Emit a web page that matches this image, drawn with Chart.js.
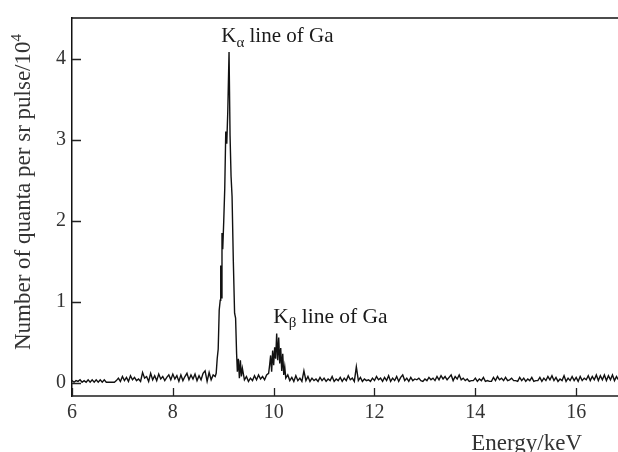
<!DOCTYPE html>
<html>
<head>
<meta charset="utf-8">
<script src="https://cdn.jsdelivr.net/npm/chart.js@4.4.1/dist/chart.umd.min.js"></script>
<style>
  html, body { margin: 0; padding: 0; background: #fff; }
  #wrap { width: 618px; height: 452px; }
</style>
</head>
<body>
<div id="wrap"><canvas id="myChart" width="618" height="452"></canvas></div>
<script>
// spectrum, counts in units of 10^4 quanta per sr per pulse
const energyLow = [6.00, 6.04, 6.08, 6.12, 6.16, 6.20, 6.24, 6.28, 6.32, 6.36, 6.40, 6.44, 6.48, 6.52, 6.56, 6.60,
  6.64, 6.68, 6.72, 6.76, 6.80, 6.84, 6.88, 6.92, 6.96, 7.00, 7.04, 7.08, 7.12, 7.16, 7.20, 7.24, 7.28, 7.32, 7.36,
  7.40, 7.44, 7.48, 7.52, 7.56, 7.60, 7.64, 7.68, 7.72, 7.76, 7.80, 7.84, 7.88, 7.92, 7.96, 8.00, 8.04, 8.08, 8.12,
  8.16, 8.20, 8.24, 8.28, 8.32, 8.36, 8.40, 8.44, 8.48, 8.52, 8.56, 8.60, 8.64, 8.68, 8.72, 8.76, 8.80, 8.84];
const countsLow = [0.03, 0.01, 0.03, 0.02, 0.04, 0.01, 0.03, 0.01, 0.04, 0.01, 0.04, 0.01, 0.04, 0.01, 0.04, 0.01,
  0.04, 0.01, 0.01, 0.01, 0.01, 0.01, 0.03, 0.06, 0.02, 0.08, 0.03, 0.07, 0.02, 0.09, 0.04, 0.07, 0.03, 0.05, 0.02,
  0.13, 0.06, 0.08, 0.02, 0.12, 0.04, 0.09, 0.03, 0.11, 0.05, 0.08, 0.03, 0.07, 0.10, 0.04, 0.11, 0.05, 0.09, 0.02,
  0.10, 0.03, 0.08, 0.12, 0.04, 0.10, 0.05, 0.11, 0.03, 0.09, 0.04, 0.12, 0.15, 0.02, 0.13, 0.04, 0.10, 0.08];

const energyKa = [8.86, 8.88, 8.90, 8.92, 8.94, 8.95, 8.96, 8.975, 8.99, 9.01, 9.03, 9.05, 9.07, 9.09, 9.115, 9.135,
  9.155, 9.175, 9.20, 9.225, 9.245, 9.265, 9.28, 9.30, 9.32, 9.34, 9.36, 9.38];
const countsKa = [0.12, 0.30, 0.42, 0.90, 1.02, 1.45, 1.05, 1.85, 1.65, 2.00, 2.40, 3.10, 2.95, 3.35, 4.08, 3.05,
  2.55, 2.30, 1.50, 0.86, 0.80, 0.36, 0.14, 0.30, 0.06, 0.28, 0.08, 0.18];

const energyMid = [9.42, 9.46, 9.50, 9.54, 9.58, 9.62, 9.66, 9.70, 9.74, 9.78, 9.82, 9.86, 9.90, 9.92, 9.94, 9.96,
  9.98, 10.00, 10.02, 10.04, 10.06, 10.08, 10.10, 10.12, 10.14, 10.16, 10.18, 10.20, 10.22, 10.24, 10.28, 10.32,
  10.36, 10.40, 10.44, 10.48, 10.52, 10.56, 10.60, 10.64, 10.68, 10.72, 10.76, 10.80, 10.84, 10.88, 10.92, 10.96,
  11.00, 11.04, 11.08, 11.12, 11.16, 11.20, 11.24, 11.28, 11.32, 11.36, 11.40, 11.44, 11.48, 11.52, 11.56, 11.60,
  11.64, 11.68, 11.72, 11.76, 11.80, 11.84, 11.88, 11.92, 11.96];
const countsMid = [0.04, 0.08, 0.02, 0.06, 0.03, 0.09, 0.04, 0.10, 0.05, 0.08, 0.04, 0.10, 0.12, 0.22, 0.34, 0.14,
  0.40, 0.22, 0.44, 0.30, 0.61, 0.28, 0.56, 0.24, 0.43, 0.15, 0.36, 0.10, 0.20, 0.06, 0.10, 0.03,
  0.07, 0.02, 0.09, 0.03, 0.06, 0.02, 0.15, 0.03, 0.08, 0.02, 0.06, 0.03, 0.05, 0.02, 0.07, 0.03,
  0.06, 0.02, 0.05, 0.03, 0.08, 0.02, 0.05, 0.03, 0.07, 0.02, 0.06, 0.03, 0.09, 0.04, 0.06, 0.02,
  0.20, 0.03, 0.07, 0.02, 0.05, 0.03, 0.04, 0.02, 0.06];

const energyHigh = [12.00, 12.04, 12.08, 12.12, 12.16, 12.20, 12.24, 12.28, 12.32, 12.36, 12.40, 12.44, 12.48, 12.52,
  12.56, 12.60, 12.64, 12.68, 12.72, 12.76, 12.80, 12.84, 12.88, 12.92, 12.96, 13.00, 13.04, 13.08, 13.12, 13.16,
  13.20, 13.24, 13.28, 13.32, 13.36, 13.40, 13.44, 13.48, 13.52, 13.56, 13.60, 13.64, 13.68, 13.72, 13.76, 13.80,
  13.84, 13.88, 13.92, 13.96, 14.00, 14.04, 14.08, 14.12, 14.16, 14.20, 14.24, 14.28, 14.32, 14.36, 14.40, 14.44,
  14.48, 14.52, 14.56, 14.60, 14.64, 14.68, 14.72, 14.76, 14.80, 14.84, 14.88, 14.92, 14.96, 15.00, 15.04, 15.08,
  15.12, 15.16, 15.20, 15.24, 15.28, 15.32, 15.36, 15.40, 15.44, 15.48, 15.52, 15.56, 15.60, 15.64, 15.68, 15.72,
  15.76, 15.80, 15.84, 15.88, 15.92, 15.96, 16.00, 16.04, 16.08, 16.12, 16.16, 16.20, 16.24, 16.28, 16.32, 16.36,
  16.40, 16.44, 16.48, 16.52, 16.56, 16.60, 16.64, 16.68, 16.72, 16.76, 16.80, 16.84];
const countsHigh = [0.03, 0.08, 0.04, 0.06, 0.02, 0.07, 0.03, 0.09, 0.02, 0.06, 0.03, 0.08, 0.02, 0.07,
  0.10, 0.03, 0.06, 0.02, 0.07, 0.03, 0.05, 0.04, 0.06, 0.03, 0.02, 0.05, 0.03, 0.07, 0.04, 0.06,
  0.03, 0.08, 0.04, 0.09, 0.05, 0.08, 0.04, 0.07, 0.10, 0.03, 0.08, 0.05, 0.10, 0.04, 0.06, 0.03,
  0.05, 0.02, 0.03, 0.03, 0.06, 0.02, 0.05, 0.03, 0.07, 0.02, 0.03, 0.02, 0.02, 0.07, 0.03, 0.08,
  0.04, 0.06, 0.03, 0.07, 0.03, 0.04, 0.06, 0.03, 0.03, 0.02, 0.07, 0.03, 0.06, 0.02, 0.05, 0.03,
  0.07, 0.02, 0.03, 0.03, 0.07, 0.02, 0.06, 0.03, 0.08, 0.04, 0.09, 0.03, 0.07, 0.02, 0.05, 0.03,
  0.09, 0.02, 0.06, 0.03, 0.08, 0.03, 0.07, 0.02, 0.08, 0.03, 0.06, 0.04, 0.09, 0.03, 0.08, 0.04,
  0.10, 0.03, 0.09, 0.04, 0.10, 0.03, 0.09, 0.04, 0.10, 0.03, 0.08, 0.04];

const xTicks = [6, 8, 10, 12, 14, 16];
const yTicks = [0, 1, 2, 3, 4];

const energy = [...energyLow, ...energyKa, ...energyMid, ...energyHigh];
const counts = [...countsLow, ...countsKa, ...countsMid, ...countsHigh];
const points = energy.map((e, i) => ({ x: e, y: counts[i] }));

const SERIF = '"Liberation Serif", "DejaVu Serif", serif';

// text with a subscript after the first letter: K_alpha line of Ga
const drawSubLabel = (ctx, x, y, main, sub, rest, size) => {
  ctx.font = `${size}px ${SERIF}`;
  ctx.fillText(main, x, y);
  let w = ctx.measureText(main).width;
  ctx.font = `${Math.round(size * 0.72)}px ${SERIF}`;
  ctx.fillText(sub, x + w, y + size * 0.2);
  w += ctx.measureText(sub).width;
  ctx.font = `${size}px ${SERIF}`;
  ctx.fillText(rest, x + w, y);
};

const framePlugin = {
  id: "frame",
  afterDraw(chart) {
    const { ctx, chartArea: a, scales } = chart;
    const xs = scales.x, ys = scales.y;
    ctx.save();
    ctx.strokeStyle = "#111";
    ctx.lineWidth = 1.5;
    ctx.beginPath();
    ctx.moveTo(a.left, a.top);
    ctx.lineTo(a.right, a.top);
    ctx.stroke();

    // inward ticks
    ctx.lineWidth = 1.3;
    ctx.strokeStyle = "#222";
    ctx.beginPath();
    xTicks.forEach((v) => {
      const px = Math.round(xs.getPixelForValue(v)) + 0.5;
      ctx.moveTo(px, a.bottom);
      ctx.lineTo(px, a.bottom - 8);
    });
    yTicks.forEach((v) => {
      const py = Math.round(ys.getPixelForValue(v)) + 0.5;
      ctx.moveTo(a.left, py);
      ctx.lineTo(a.left + 9, py);
    });
    ctx.stroke();

    ctx.fillStyle = "#1a1a1a";
    ctx.textBaseline = "alphabetic";
    ctx.textAlign = "left";
    drawSubLabel(ctx, xs.getPixelForValue(8.96), ys.getPixelForValue(4.2), "K", "α", " line of Ga", 21);
    drawSubLabel(ctx, xs.getPixelForValue(9.99), ys.getPixelForValue(0.74), "K", "β", " line of Ga", 21.5);

    // x axis title
    ctx.font = `23px ${SERIF}`;
    ctx.fillStyle = "#333";
    ctx.fillText("Energy/keV", xs.getPixelForValue(13.92), a.bottom + 54);

    // y axis title
    ctx.translate(30, 192);
    ctx.rotate(-Math.PI / 2);
    ctx.font = `23px ${SERIF}`;
    const t = "Number of quanta per sr pulse/10";
    const tw = ctx.measureText(t).width;
    ctx.font = `15px ${SERIF}`;
    const sw = ctx.measureText("4").width;
    const x0 = -(tw + sw) / 2;
    ctx.font = `23px ${SERIF}`;
    ctx.fillText(t, x0, 0);
    ctx.font = `15px ${SERIF}`;
    ctx.fillText("4", x0 + tw, -9);
    ctx.restore();
  },
};

const chartCtx = document.getElementById("myChart").getContext("2d");
window.chart = new Chart(chartCtx, {
  type: "line",
  data: {
    datasets: [
      {
        label: "Ga spectrum",
        data: points,
        borderColor: "#111",
        borderWidth: 1.4,
        pointRadius: 0,
        tension: 0,
        fill: false,
      },
    ],
  },
  options: {
    responsive: false,
    animation: false,
    layout: { padding: { top: 13, right: 0, left: 0, bottom: 0 } },
    plugins: { legend: { display: false }, tooltip: { enabled: false } },
    scales: {
      x: {
        type: "linear",
        min: 6,
        max: 16.83,
        afterBuildTicks: (s) => { s.ticks = xTicks.map((v) => ({ value: v })); },
        afterFit: (s) => { s.height = 56; },
        grid: { display: false, drawTicks: false },
        border: { display: true, color: "#555", width: 2 },
        ticks: {
          color: "#333",
          padding: 5,
          maxRotation: 0,
          font: { family: SERIF, size: 20 },
        },
      },
      y: {
        min: -0.16,
        max: 4.5,
        afterBuildTicks: (s) => { s.ticks = yTicks.map((v) => ({ value: v })); },
        afterFit: (s) => { s.width = 72; },
        grid: { display: false, drawTicks: false },
        border: { display: true, color: "#111", width: 1.5 },
        ticks: {
          color: "#333",
          padding: 6,
          font: { family: SERIF, size: 20 },
        },
      },
    },
  },
  plugins: [framePlugin],
});
</script>
</body>
</html>
